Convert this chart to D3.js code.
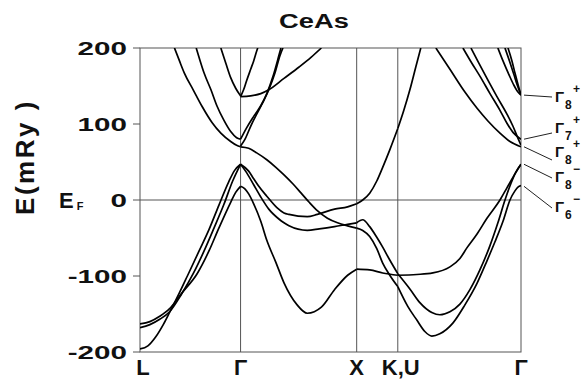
<!DOCTYPE html>
<html>
<head>
<meta charset="utf-8">
<script src="https://cdn.jsdelivr.net/npm/d3@7"></script>
<style>
body { margin: 0; background: #fff; }
svg { display: block; }
text { font-family: "Liberation Sans", Arial, sans-serif; font-weight: bold; fill: #111; }
</style>
</head>
<body>
<div id="chart"></div>
<script>
// symmetry points along the k path (units of 2pi/a)
var symLabels = ["L", "Γ", "X", "K,U", "Γ"];
var symK = [0, 0.866, 1.866, 2.220, 3.281];
var yTicks = [200, 100, 0, -100, -200];

// bands, [k, E (mRy)], one list per piece of the path
var bandsLG = [
    [[0,-196],[0.068,-192],[0.136,-180],[0.204,-163],[0.255,-148],[0.340,-122],[0.408,-100],[0.509,-67],[0.594,-39],[0.679,-7],[0.764,24],[0.815,39],[0.866,47]],
    [[0,-168],[0.085,-164],[0.170,-157],[0.255,-147],[0.357,-124],[0.458,-97],[0.552,-67],[0.637,-37],[0.722,-6],[0.798,25],[0.866,47]],
    [[0,-163],[0.085,-160],[0.170,-153],[0.255,-143],[0.357,-123],[0.492,-97],[0.594,-67],[0.679,-37],[0.781,-3],[0.824,10],[0.866,18]],
    [[0.297,200],[0.340,183],[0.382,167],[0.458,145],[0.535,123],[0.620,102],[0.696,88],[0.781,77],[0.832,72],[0.866,70]],
    [[0.484,200],[0.518,183],[0.552,167],[0.611,145],[0.662,124],[0.722,105],[0.781,90],[0.832,82],[0.866,80]],
    [[0.696,200],[0.739,180],[0.781,161],[0.824,147],[0.866,137]]
];

var bandsGX = [
    [[0.866,47],[0.936,38],[0.979,28],[1.023,18],[1.092,5],[1.179,-10],[1.240,-17],[1.283,-19],[1.440,-22],[1.527,-19],[1.675,-12],[1.788,-9],[1.866,-5]],
    [[0.866,47],[0.918,36],[0.979,20],[1.040,4],[1.109,-12],[1.196,-25],[1.240,-30],[1.283,-34],[1.440,-40],[1.544,-38],[1.675,-35],[1.788,-32],[1.866,-30]],
    [[0.866,70],[0.936,68],[1.005,62],[1.092,53],[1.170,43],[1.240,33],[1.318,21],[1.388,9],[1.457,-3],[1.527,-14],[1.614,-24],[1.701,-30],[1.788,-34],[1.866,-37]],
    [[0.866,18],[0.901,15],[0.936,8],[0.979,-5],[1.040,-28],[1.092,-53],[1.170,-82],[1.240,-109],[1.353,-138],[1.440,-149],[1.562,-141],[1.675,-118],[1.788,-99],[1.866,-91]],
    [[0.866,136],[0.892,145],[0.918,157],[0.953,172],[0.979,183],[1.005,196],[1.014,200]],
    [[0.866,136],[0.953,137],[1.040,140],[1.109,145],[1.240,160],[1.370,175],[1.475,188],[1.562,200]],
    [[0.866,80],[0.918,95],[0.979,110],[1.040,124],[1.092,140],[1.144,162],[1.196,190],[1.214,200]],
    [[0.866,71],[0.901,79],[0.953,97],[1.005,113],[1.057,128],[1.109,145],[1.162,167],[1.205,190],[1.231,200]]
];

var bandsXK = [
    [[1.866,-5],[1.918,0],[1.978,9],[2.039,25],[2.090,43],[2.151,66],[2.220,94]],
    [[1.866,-30],[1.918,-26],[1.978,-35],[2.039,-49],[2.090,-62],[2.151,-79],[2.220,-97]],
    [[1.866,-37],[1.918,-40],[1.978,-48],[2.039,-64],[2.090,-83],[2.151,-99],[2.220,-114]],
    [[1.866,-91],[1.978,-92],[2.090,-96],[2.220,-99]]
];

var bandsKG = [
    [[2.220,94],[2.272,118],[2.324,145],[2.375,175],[2.418,200]],
    [[2.220,-99],[2.384,-98],[2.522,-96],[2.669,-88],[2.755,-77],[2.815,-63],[2.901,-45],[2.988,-24],[3.100,0],[3.160,16],[3.220,32],[3.281,47]],
    [[2.220,-97],[2.324,-117],[2.410,-135],[2.513,-148],[2.582,-151],[2.669,-147],[2.755,-137],[2.841,-118],[2.927,-92],[3.014,-60],[3.082,-30],[3.143,0],[3.195,22],[3.238,37],[3.281,47]],
    [[2.220,-114],[2.306,-140],[2.384,-158],[2.453,-173],[2.513,-179],[2.582,-176],[2.694,-162],[2.798,-138],[2.901,-110],[2.988,-80],[3.057,-55],[3.126,-28],[3.186,0],[3.229,12],[3.255,17],[3.281,19]],
    [[2.548,200],[2.669,172],[2.798,142],[2.901,121],[2.996,104],[3.100,88],[3.186,77],[3.281,70]],
    [[2.781,200],[2.858,180],[2.927,163],[3.014,140],[3.100,118],[3.160,101],[3.212,89],[3.281,80]],
    [[2.850,200],[2.918,180],[2.988,160],[3.074,136],[3.160,113],[3.212,97],[3.247,84],[3.281,72]],
    [[3.082,200],[3.126,183],[3.177,165],[3.220,151],[3.255,142],[3.281,138]],
    [[3.143,200],[3.186,181],[3.220,165],[3.247,152],[3.281,138]],
    [[3.169,200],[3.203,183],[3.229,167],[3.255,152],[3.281,138]]
];

// states labelled at the right-hand Gamma point
var gammaSub = ["8", "7", "8", "8", "6"];
var gammaSup = ["+", "+", "+", "\u2212", "\u2212"];
var gammaE = [138, 80, 70, 47, 18];

var width = 581, height = 379;
var margin = { top: 48, right: 60, bottom: 27, left: 140 };

var svg = d3.select("#chart").append("svg")
    .attr("width", width)
    .attr("height", height);

var x = d3.scaleLinear().domain([0, 3.281]).range([margin.left, width - margin.right]);
var y = d3.scaleLinear().domain([-200, 200]).range([height - margin.bottom, margin.top]);

svg.append("clipPath").attr("id", "plot-clip")
    .append("rect")
    .attr("x", x(0)).attr("y", y(200))
    .attr("width", x(3.281) - x(0)).attr("height", y(-200) - y(200));

// frame, symmetry lines, Fermi level
var frame = svg.append("g").attr("stroke", "#555").attr("stroke-width", 1).attr("fill", "none");
frame.append("rect")
    .attr("x", x(0)).attr("y", y(200))
    .attr("width", x(3.281) - x(0)).attr("height", y(-200) - y(200));
frame.selectAll(".sym")
    .data(symK.slice(1, -1))
    .join("line")
    .attr("x1", d => x(d)).attr("x2", d => x(d))
    .attr("y1", y(200)).attr("y2", y(-200));
frame.append("line")
    .attr("x1", x(0)).attr("x2", x(3.281))
    .attr("y1", y(0)).attr("y2", y(0));

// left ticks and labels
frame.selectAll(".tick")
    .data(yTicks)
    .join("line")
    .attr("x1", x(0) - 7).attr("x2", x(0))
    .attr("y1", d => y(d)).attr("y2", d => y(d));

svg.selectAll(".ylab")
    .data(yTicks)
    .join("text")
    .attr("text-anchor", "end")
    .attr("font-size", 18.5)
    .attr("transform", d => `translate(${x(0) - 13},${y(d) + 6.7}) scale(1.6,1)`)
    .text(d => d < 0 ? "-" + Math.abs(d) : d);

// bands
var line = d3.line()
    .x(d => x(d[0]))
    .y(d => y(d[1]))
    .curve(d3.curveMonotoneX);

var allBands = bandsLG.concat(bandsGX, bandsXK, bandsKG);
svg.append("g")
    .attr("clip-path", "url(#plot-clip)")
    .selectAll("path")
    .data(allBands)
    .join("path")
    .attr("fill", "none")
    .attr("stroke", "#000")
    .attr("stroke-width", 1.7)
    .attr("d", line);

// bottom labels
svg.selectAll(".klab")
    .data(symLabels)
    .join("text")
    .attr("x", (d, i) => x(symK[i]) + (i === 0 ? 3 : i === 3 ? 3 : 0))
    .attr("y", 375)
    .attr("text-anchor", "middle")
    .attr("font-size", 22)
    .text(d => d);

// title
svg.append("text")
    .attr("transform", "translate(314,28) scale(1.3,1)")
    .attr("text-anchor", "middle")
    .attr("font-size", 21)
    .text("CeAs");

// y axis title
svg.append("text")
    .attr("transform", "translate(34,157) rotate(-90)")
    .attr("text-anchor", "middle")
    .attr("font-size", 26)
    .attr("letter-spacing", 2.5)
    .text("E(mRy )");

// E_F
var ef = svg.append("text").attr("x", 59).attr("y", 208).attr("font-size", 22);
ef.append("tspan").text("E");
ef.append("tspan").attr("font-size", 11).attr("dx", 3).attr("dy", 2).text("F");

// Gamma labels at the right edge
var labBase = [102, 133, 157, 182, 212];
var leadEnd = [97, 133, 160, 178, 208];
var gl = svg.append("g");
gl.selectAll("line")
    .data(gammaE)
    .join("line")
    .attr("stroke", "#222").attr("stroke-width", 1)
    .attr("x1", x(3.281) + 3).attr("y1", d => y(d))
    .attr("x2", x(3.281) + 31).attr("y2", (d, i) => leadEnd[i]);

var gt = gl.selectAll("g.gl")
    .data(gammaE)
    .join("g");
gt.append("text")
    .attr("x", 555).attr("y", (d, i) => labBase[i])
    .attr("font-size", 15)
    .text("Γ");
gt.append("text")
    .attr("x", 565).attr("y", (d, i) => labBase[i] + 7)
    .attr("font-size", 12)
    .text((d, i) => gammaSub[i]);
gt.append("text")
    .attr("x", 573).attr("y", (d, i) => labBase[i] - 9)
    .attr("font-size", 12)
    .text((d, i) => gammaSup[i]);
</script>
</body>
</html>
